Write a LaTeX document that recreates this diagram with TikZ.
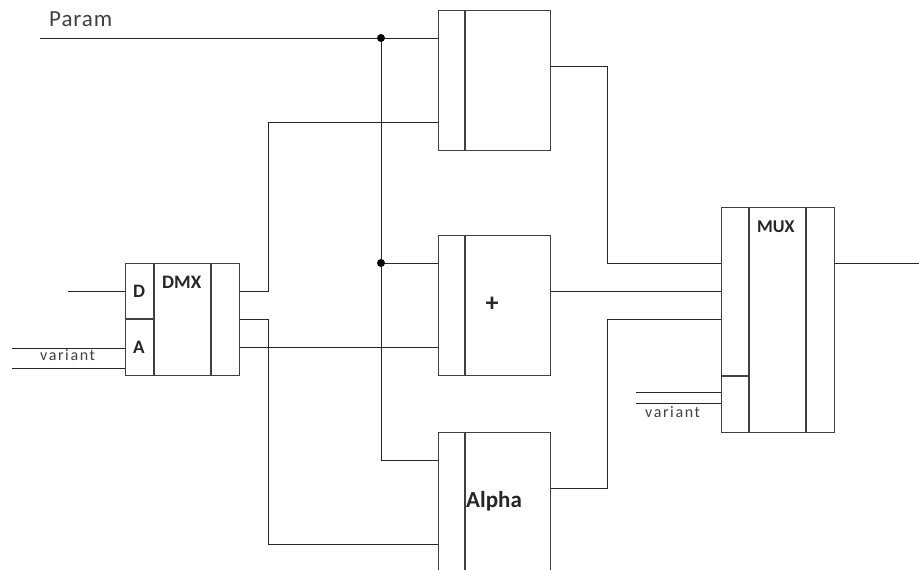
\documentclass[tikz,border=0pt]{standalone}
\usepackage{fontspec}
\setmainfont{Carlito}
\begin{document}
\begin{tikzpicture}[x=1pt, y=-1pt,
    block/.style={rectangle, draw=black!75, line width=1.1pt, minimum width=112pt, minimum height=140pt, anchor=north west, inner sep=0pt},
    wire/.style={draw=black!85, line width=0.9pt},
    dot/.style={circle, fill=black, inner sep=0pt, minimum size=8pt},
    lbl/.style={font=\fontsize{19}{19}\selectfont\bfseries, text=black!85, anchor=base west, inner sep=0pt},
    small/.style={font=\fontsize{16}{16}\selectfont\addfontfeature{LetterSpace=10}, text=black!75, anchor=base west, inner sep=0pt}
]
    \clip (0,0) rectangle (919,570);

    % blocks
    \node[block] (top) at (438,10) {};
    \node[block] (mid) at (438,235) {};
    \node[block, minimum height=160pt] (alpha) at (438,432) {};
    \node[block, minimum width=114pt, minimum height=112pt] (dmx) at (125,263) {};
    \node[block, minimum width=113pt, minimum height=225pt] (mux) at (721,207) {};

    % dividers
    \foreach \b in {top, mid, alpha}
        \draw[black!75, line width=1.1pt] (\b.north west) ++(27,0) -- (\b.south west -| 465,0);
    \draw[black!75, line width=1.1pt] (154,263) -- (154,375);
    \draw[black!75, line width=1.1pt] (211,263) -- (211,375);
    \draw[black!75, line width=1.1pt] (125,319) -- (154,319);
    \draw[black!75, line width=1.1pt] (749,207) -- (749,432);
    \draw[black!75, line width=1.1pt] (806,207) -- (806,432);
    \draw[black!75, line width=1.1pt] (721,376) -- (749,376);

    % labels
    \node[lbl] (dmxname) at (162,288) {DMX};
    \node[lbl] (dlbl) at (133,297) {D};
    \node[lbl] (albl) at (133,353) {A};
    \node[lbl, font=\fontsize{18}{18}\selectfont\bfseries] (muxname) at (757,232) {MUX};
    \node[lbl, font=\fontsize{26}{26}\selectfont\bfseries, anchor=center] (plus) at (492,304) {+};
    \node[lbl, font=\fontsize{23}{23}\selectfont\bfseries] (alphaname) at (466,507) {Alpha};
    \node[lbl, font=\fontsize{23}{23}\selectfont\addfontfeature{LetterSpace=4}, text=black!75] (param) at (49,27) {Param};
    \node[small] (var1) at (40,360) {variant};
    \node[small] (var2) at (645,417) {variant};

    % junctions
    \node[dot] (j1) at (381,38) {};
    \node[dot] (j2) at (381,263) {};
    \coordinate (pin) at (40,38);
    \coordinate (din) at (68,291);
    \coordinate (vin1) at (12,348);
    \coordinate (vin2) at (12,368);
    \coordinate (mvin1) at (636,392);
    \coordinate (mvin2) at (636,403);
    \coordinate (out) at (919,263);

    % wires
    \draw[wire] (pin) -- (j1) -- (top.west |- j1);
    \draw[wire] (j1) -- (j2) -- (381,460) -- (alpha.west |- 0,460);
    \draw[wire] (j2) -- (mid.west |- j2);
    \draw[wire] (din) -- (dmx.west |- din);
    \draw[wire] (vin1) -- (dmx.west |- vin1);
    \draw[wire] (vin2) -- (dmx.west |- vin2);
    \draw[wire] (dmx.east |- 0,291) -- (268,291) -- (268,122) -- (top.west |- 0,122);
    \draw[wire] (dmx.east |- 0,319) -- (268,319) -- (268,544) -- (alpha.west |- 0,544);
    \draw[wire] (dmx.east |- 0,347) -- (mid.west |- 0,347);
    \draw[wire] (top.east |- 0,66) -- (607,66) -- (607,263) -- (mux.west |- 0,263);
    \draw[wire] (mid.east |- 0,291) -- (mux.west |- 0,291);
    \draw[wire] (alpha.east |- 0,488) -- (607,488) -- (607,319) -- (mux.west |- 0,319);
    \draw[wire] (mvin1) -- (mux.west |- mvin1);
    \draw[wire] (mvin2) -- (mux.west |- mvin2);
    \draw[wire] (mux.east |- out) -- (out);
\end{tikzpicture}
\end{document}
